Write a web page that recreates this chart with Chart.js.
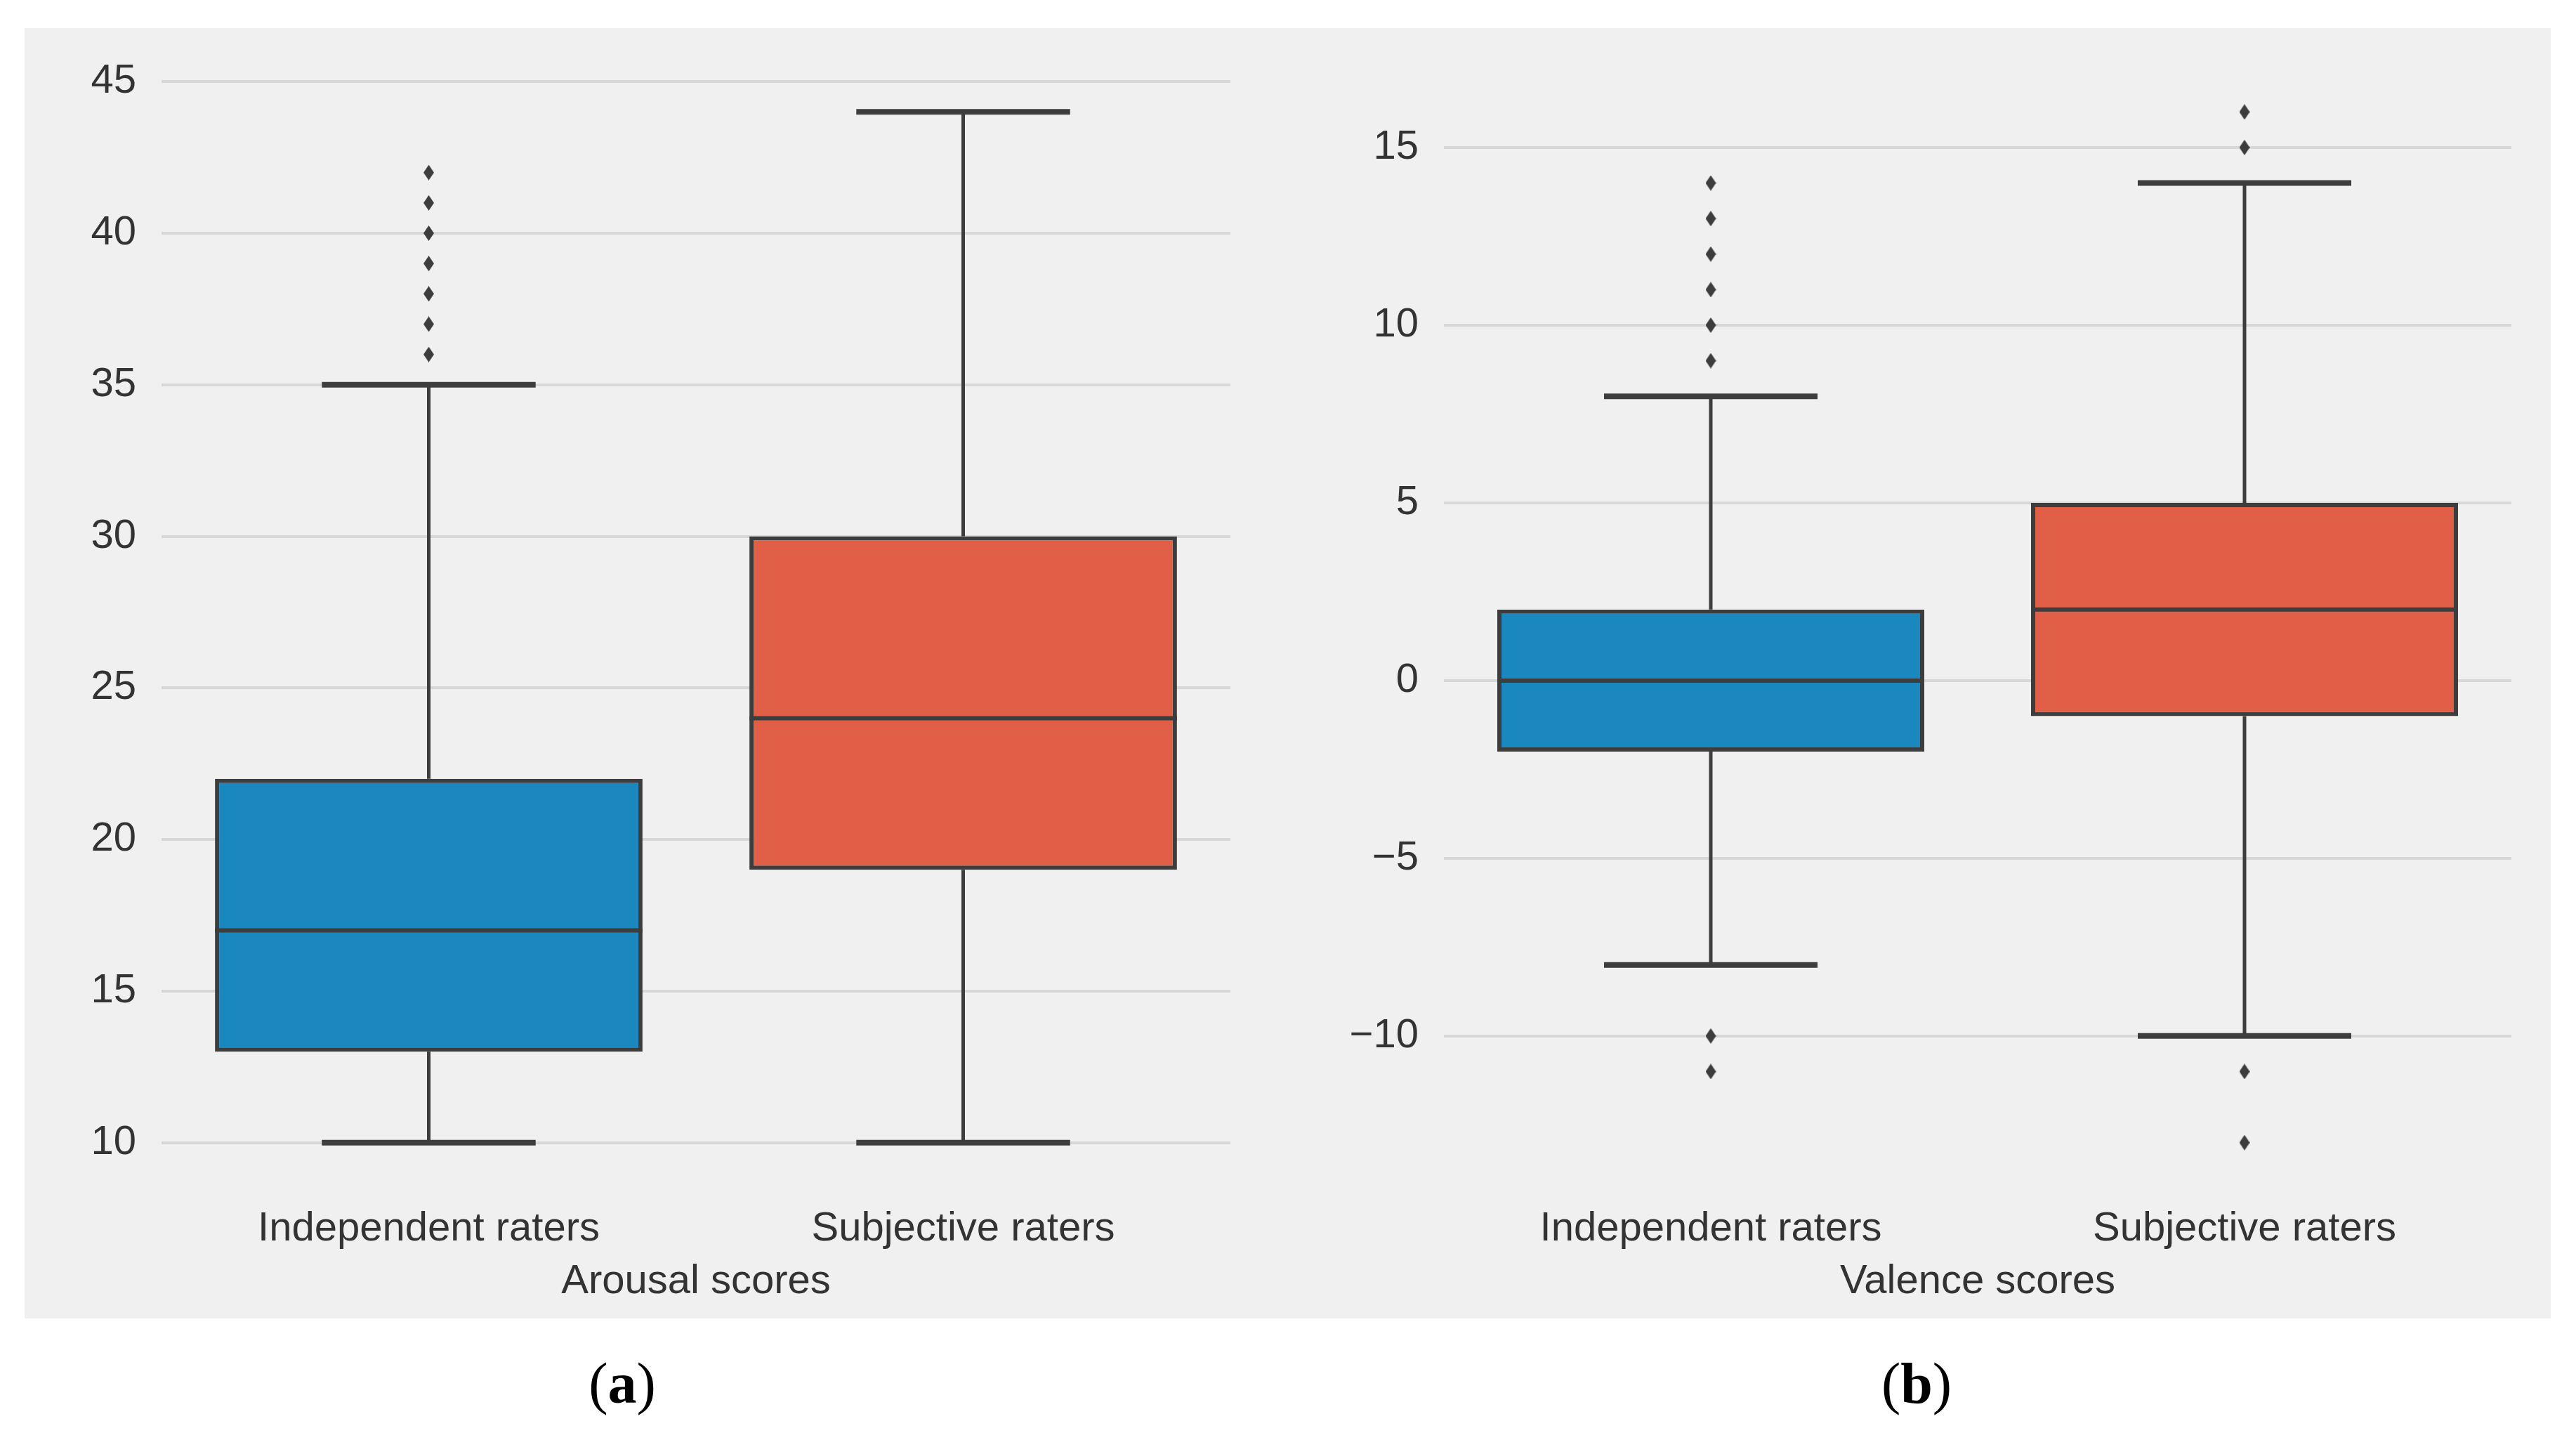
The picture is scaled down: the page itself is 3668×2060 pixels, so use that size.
<!DOCTYPE html>
<html>
<head>
<meta charset="utf-8">
<title>Arousal and valence scores</title>
<script src="https://cdn.jsdelivr.net/npm/chart.js@4.4.1/dist/chart.umd.min.js"></script>
<style>
    html, body { margin: 0; padding: 0; background: #ffffff; }
    body { width: 3668px; height: 2060px; position: relative; overflow: hidden; }
    #panel { position: absolute; left: 35px; top: 40px; width: 3597px; height: 1837px; background: #f0f0f0; }
    canvas { position: absolute; top: 40px; }
    #arousalChart { left: 35px; width: 1800px; height: 1838px; }
    #valenceChart { left: 1835px; width: 1797px; height: 1838px; }
    .caption {
        position: absolute; top: 1929px; width: 400px; text-align: center;
        font-family: 'Liberation Serif', 'Times New Roman', serif; font-size: 82px; line-height: 1; color: #000;
    }
</style>
</head>
<body>
<div id="panel"></div>
<canvas id="arousalChart" width="1800" height="1838"></canvas>
<canvas id="valenceChart" width="1797" height="1838"></canvas>
<div class="caption" style="left: 686px">(<b>a</b>)</div>
<div class="caption" style="left: 2529px">(<b>b</b>)</div>

<script>
const categories = ['Independent raters', 'Subjective raters'];

// Arousal scores (a)
const arousalLow = [10, 10];
const arousalQ1 = [13, 19];
const arousalMedian = [17, 24];
const arousalQ3 = [22, 30];
const arousalHigh = [35, 44];
const arousalOutliersIndependent = [36, 37, 38, 39, 40, 41, 42];
const arousalOutliersSubjective = [];
const arousalTicks = [10, 15, 20, 25, 30, 35, 40, 45];

// Valence scores (b)
const valenceLow = [-8, -10];
const valenceQ1 = [-2, -1];
const valenceMedian = [0, 2];
const valenceQ3 = [2, 5];
const valenceHigh = [8, 14];
const valenceOutliersIndependent = [-11, -10, 9, 10, 11, 12, 13, 14];
const valenceOutliersSubjective = [-13, -11, 15, 16];
const valenceTicks = [-10, -5, 0, 5, 10, 15];

const boxColors = ['#1b87bf', '#e25f47'];
const lineColor = '#3d3d3d';
const textColor = '#333333';

Chart.defaults.font.family = "'Liberation Sans', Arial, sans-serif";
Chart.defaults.color = textColor;

// thin diamond marker like seaborn's "d" flier
function diamondMarker() {
    const c = document.createElement('canvas');
    c.width = 15;
    c.height = 22;
    const g = c.getContext('2d');
    g.fillStyle = lineColor;
    g.beginPath();
    g.moveTo(7.5, 0);
    g.lineTo(15, 11);
    g.lineTo(7.5, 22);
    g.lineTo(0, 11);
    g.closePath();
    g.fill();
    return c;
}

// whiskers + caps behind the boxes, medians on top
const boxWhiskers = {
    id: 'boxWhiskers',
    beforeDatasetsDraw(chart, args, opts) {
        const y = chart.scales.y;
        const bars = chart.getDatasetMeta(0).data;
        const ctx = chart.ctx;
        ctx.save();
        ctx.strokeStyle = lineColor;
        bars.forEach((bar, i) => {
            const x = bar.x;
            const half = bar.width / 4;
            ctx.lineWidth = 5;
            ctx.beginPath();
            ctx.moveTo(x, y.getPixelForValue(opts.q3[i]));
            ctx.lineTo(x, y.getPixelForValue(opts.high[i]));
            ctx.moveTo(x, y.getPixelForValue(opts.q1[i]));
            ctx.lineTo(x, y.getPixelForValue(opts.low[i]));
            ctx.stroke();
            ctx.lineWidth = 8;
            ctx.beginPath();
            [opts.low[i], opts.high[i]].forEach(v => {
                const py = y.getPixelForValue(v);
                ctx.moveTo(x - half, py);
                ctx.lineTo(x + half, py);
            });
            ctx.stroke();
        });
        ctx.restore();
    },
    afterDatasetsDraw(chart, args, opts) {
        const y = chart.scales.y;
        const bars = chart.getDatasetMeta(0).data;
        const ctx = chart.ctx;
        ctx.save();
        ctx.strokeStyle = lineColor;
        ctx.lineWidth = 6;
        bars.forEach((bar, i) => {
            const py = y.getPixelForValue(opts.median[i]);
            ctx.beginPath();
            ctx.moveTo(bar.x - bar.width / 2, py);
            ctx.lineTo(bar.x + bar.width / 2, py);
            ctx.stroke();
        });
        ctx.restore();
    }
};

function makeBoxChart(id, stats, outliers, ticks, title, axisWidth, padRight) {
    const all = stats.low.concat(stats.high, outliers[0], outliers[1]);
    const lo = Math.min(...all);
    const hi = Math.max(...all);
    const margin = (hi - lo) * 0.05;
    const marker = diamondMarker();

    return new Chart(document.getElementById(id), {
        type: 'bar',
        data: {
            labels: categories,
            datasets: [
                {
                    data: categories.map((_, i) => [stats.q1[i], stats.q3[i]]),
                    backgroundColor: boxColors,
                    borderColor: lineColor,
                    borderWidth: 6,
                    borderSkipped: false,
                    categoryPercentage: 0.8,
                    barPercentage: 1.0
                },
                {
                    type: 'line',
                    showLine: false,
                    data: outliers[0].map(v => ({ x: categories[0], y: v }))
                        .concat(outliers[1].map(v => ({ x: categories[1], y: v }))),
                    pointStyle: marker,
                    pointRadius: 8
                }
            ]
        },
        options: {
            responsive: false,
            animation: false,
            devicePixelRatio: 1,
            layout: { padding: { top: 46, right: padRight, bottom: 0, left: 0 } },
            plugins: {
                legend: { display: false },
                tooltip: { enabled: false },
                boxWhiskers: stats
            },
            scales: {
                x: {
                    grid: { display: false, drawTicks: false },
                    border: { display: false },
                    ticks: { font: { size: 58 }, padding: 15, color: textColor },
                    title: {
                        display: true,
                        text: title,
                        font: { size: 58 },
                        color: textColor,
                        padding: { top: 0, bottom: 18 }
                    },
                    afterFit: scale => { scale.height = 178; }
                },
                y: {
                    min: lo - margin,
                    max: hi + margin,
                    grid: { color: '#d7d7d7', lineWidth: 4, drawTicks: false },
                    border: { display: false },
                    ticks: {
                        font: { size: 58 },
                        padding: 36,
                        color: textColor,
                        callback: v => String(v).replace('-', '\u2212')
                    },
                    afterBuildTicks: scale => { scale.ticks = ticks.map(v => ({ value: v })); },
                    afterFit: scale => {
                        scale.width = axisWidth;
                        scale.paddingTop = 0;
                        scale.paddingBottom = 0;
                    }
                }
            }
        },
        plugins: [boxWhiskers]
    });
}

makeBoxChart('arousalChart',
    { low: arousalLow, q1: arousalQ1, median: arousalMedian, q3: arousalQ3, high: arousalHigh },
    [arousalOutliersIndependent, arousalOutliersSubjective],
    arousalTicks, 'Arousal scores', 195, 83);

makeBoxChart('valenceChart',
    { low: valenceLow, q1: valenceQ1, median: valenceMedian, q3: valenceQ3, high: valenceHigh },
    [valenceOutliersIndependent, valenceOutliersSubjective],
    valenceTicks, 'Valence scores', 221, 56);
</script>
</body>
</html>
